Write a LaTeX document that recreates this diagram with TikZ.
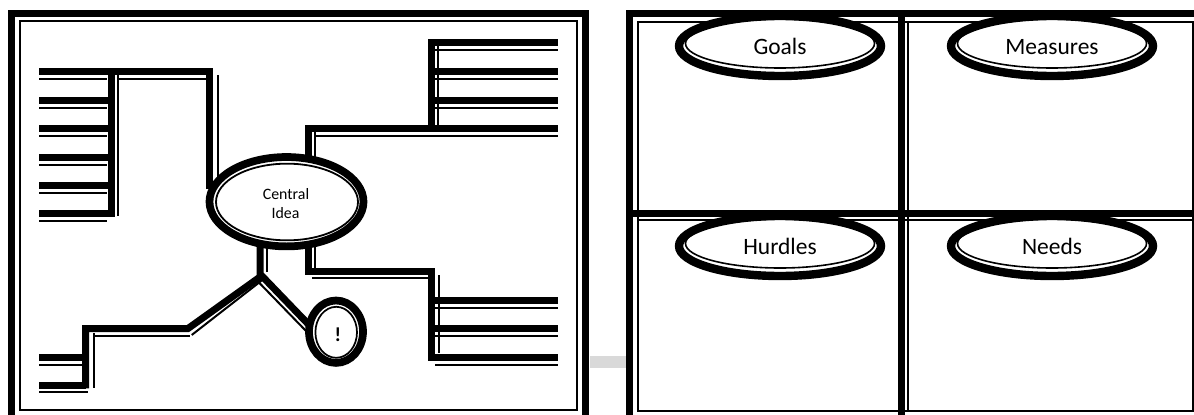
\documentclass[tikz,border=0pt]{standalone}
\usepackage{fontspec}
\setmainfont{Carlito}
\usetikzlibrary{shapes.geometric}
\definecolor{smear}{RGB}{217,217,217}
\begin{document}
\begin{tikzpicture}[x=0.75pt,y=-0.75pt,
  thk/.style={line width=5.25pt,line join=miter},
  thn/.style={line width=1.5pt},
  fthk/.style={line width=5.25pt},
  fthn/.style={line width=1.5pt},
  ringA/.style={ellipse, draw, fill=white, inner sep=0pt, outer sep=0pt},
  ringB/.style={ellipse, draw, inner sep=0pt, outer sep=0pt},
  lbl/.style={inner sep=0pt, anchor=base},
  big/.style={font=\fontsize{17.6pt}{21pt}\selectfont}]
\useasboundingbox (0,0) rectangle (1194,414);
\begin{scope}
\clip (0,0) rectangle (1194,414);
% left panel frame
\draw[fthk] (11.7,13.3) rectangle (585.5,418);
\draw[fthn] (20,21) rectangle (576.7,410);
% gray smear between panels
\fill[smear] (589.5,356) rectangle (626,368);
% right panel (2x2 table)
\draw[fthk] (629.7,13.3) rectangle (1198,418);
\draw[fthk] (901,13.3) -- (901,418);
\draw[fthk] (629.7,213.3) -- (1198,213.3);
\draw[fthn] (637.8,21.7) rectangle (1192.7,410.5);
\draw[fthn] (908.3,21.7) -- (908.3,410.5);
\draw[fthn] (637.8,220) -- (1198,220);
\end{scope}

% ---- top-left branch
\draw[thk] (209.5,189) -- (209.5,71.5) -- (113,71.5);
\draw[thn] (119,79) -- (206,79);
\draw[thn] (218,75) -- (218,180);
\foreach \y in {71.5,100.5,128.5,157.5,185.5,213.5} {
  \draw[thk] (39,\y) -- (111,\y);
  \draw[thn] (39,{\y+7.5}) -- (107,{\y+7.5});
}
\draw[thk] (111,68) -- (111,217);
\draw[thn] (118,75) -- (118,216);

% ---- top-right branch
\draw[thk] (308.5,160) -- (308.5,128.5) -- (558,128.5);
\draw[thn] (315,132) -- (315,160);
\draw[thn] (315,135.5) -- (558,135.5);
\foreach \y in {42.5,71.5,100.5} {
  \draw[thk] (431.5,\y) -- (558,\y);
  \draw[thn] (435,{\y+7.5}) -- (558,{\y+7.5});
}
\draw[thk] (431.5,39) -- (431.5,132);
\draw[thn] (438,46) -- (438,125);

% ---- bottom-right branch
\draw[thk] (308.5,244) -- (308.5,271) -- (431.5,271) -- (431.5,361);
\draw[thn] (315,244) -- (315,268);
\draw[thn] (312,278) -- (428,278);
\draw[thn] (439,275) -- (439,353);
\foreach \y in {300.5,328.5,357.5} {
  \draw[thk] (435,\y) -- (558,\y);
  \draw[thn] (435,{\y+7}) -- (558,{\y+7});
}

% ---- bottom-left branch
\draw[thk] (260,245) -- (260,277) -- (188,328.5) -- (85.5,328.5) -- (85.5,388.3);
\draw[thn] (266.5,247) -- (266.5,272);
\draw[thn] (263,279.5) -- (191.7,335);
\draw[thn] (190,335.7) -- (94,335.7);
\draw[thn] (94,333) -- (94,388.3);
\foreach \y in {357.5,385} {
  \draw[thk] (39,\y) -- (85.5,\y);
  \draw[thn] (39,{\y+7}) -- (88,{\y+7});
}
\draw[thk] (261,275) -- (312,328);
\draw[thn] (257,280.5) -- (307,332);

% ---- central idea
\node[ringA, line width=5.8pt, minimum width=115.5pt, minimum height=67pt] (central) at (286.5,201.7) {};
\node[ringB, line width=1.35pt, minimum width=106.5pt, minimum height=57.5pt] (centralin) at (287,202) {};
\node[lbl, font=\fontsize{11.9pt}{14pt}\selectfont] (centralT) at (286,199.3) {Central};
\node[lbl, font=\fontsize{11.9pt}{14pt}\selectfont] (ideaT) at (285.5,218.3) {Idea};

% ---- exclamation
\node[ringA, line width=5.8pt, minimum width=40.5pt, minimum height=46.8pt] (bang) at (336,331.7) {};
\node[ringB, line width=1.3pt, minimum width=31.2pt, minimum height=38.25pt] (bangin) at (336.2,332.3) {};
\node[lbl, font=\fontsize{15pt}{17pt}\selectfont\bfseries] (bangT) at (338,341.5) {!};

% ---- right panel ovals
\foreach \cx/\cy/\nm/\txt in {780/46/goals/Goals, 1052/46/measures/Measures, 780/246/hurdles/Hurdles, 1052/246/needs/Needs} {
  \node[ringA, line width=6.3pt, minimum width=151.5pt, minimum height=45pt] (\nm) at (\cx,\cy) {};
  \node[ringB, line width=1.2pt, minimum width=141.75pt, minimum height=36.75pt] (\nm in) at (\cx,{\cy-2.5}) {};
  \node[lbl, big] (\nm T) at (\cx,{\cy+8.3}) {\txt};
}
\end{tikzpicture}
\end{document}
